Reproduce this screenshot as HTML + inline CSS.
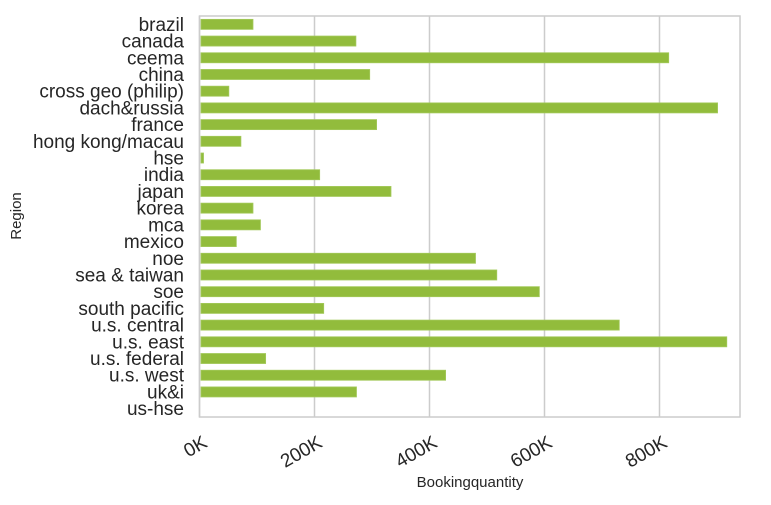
<!DOCTYPE html>
<html><head><meta charset="utf-8">
<style>
body{margin:0;background:#fff;font-family:"Liberation Sans",Arial,sans-serif;}
svg text{font-family:"Liberation Sans",Arial,sans-serif;fill:#262626;}
</style></head>
<body>
<svg width="771" height="500" viewBox="0 0 771 500">
<g id="grid"></g>
<g id="bars"></g>
<g id="ylabels"></g>
<g id="xlabels"></g>
<rect x="199.5" y="16" width="540.5" height="401" fill="none" stroke="#cccccc" stroke-width="1.5"/>
<text x="470" y="487" font-size="15" text-anchor="middle">Bookingquantity</text>
<text x="21" y="216" font-size="15" text-anchor="middle" transform="rotate(-90 21 216)">Region</text>
</svg>
<script>
const categories=["brazil","canada","ceema","china","cross geo (philip)","dach&russia","france","hong kong/macau","hse","india","japan","korea","mca","mexico","noe","sea & taiwan","soe","south pacific","u.s. central","u.s. east","u.s. federal","u.s. west","uk&i","us-hse"];
const values=[93,272,816,296,51,901,308,72,7,209,333,93,106,64,480,517,591,216,730,917,115,428,273,0];
const ticks=[0,200,400,600,800];
const tickLabels=["0K","200K","400K","600K","800K"];
const NS="http://www.w3.org/2000/svg";
const X0=199.5,PX_PER_K=115/200,PLOT_TOP=16,PLOT_BOTTOM=417;
const nCat=categories.length;
const band=(PLOT_BOTTOM-PLOT_TOP)/nCat;
const xs=v=>X0+v*PX_PER_K;
const yc=i=>PLOT_TOP+(i+0.5)*band;
function mk(tag,attrs,parent){const e=document.createElementNS(NS,tag);for(const k in attrs)e.setAttribute(k,attrs[k]);parent.appendChild(e);return e;}
const grid=document.getElementById('grid'),bars=document.getElementById('bars'),yl=document.getElementById('ylabels'),xl=document.getElementById('xlabels');
ticks.forEach((t,i)=>{
  const l=mk('line',{x1:xs(t),x2:xs(t),y1:PLOT_TOP,y2:PLOT_BOTTOM,stroke:'#cccccc','stroke-width':1.5},grid);
  
  
  const x=xs(t)+9,y=446;
  const tx=mk('text',{x:x,y:y,'font-size':19,'text-anchor':'end',transform:`rotate(-30 ${x} ${y})`},xl);
  tx.textContent=tickLabels[i];
  
  
});
categories.forEach((c,i)=>{
  const bh=band*0.6;
  const r=mk('rect',{x:xs(0)+1.5,y:yc(i)-bh/2,width:Math.max(0,xs(values[i])-xs(0)-1.5),height:bh,fill:'#92bc3c',stroke:'#a3c95a','stroke-width':0.8},bars);
  
  
  const t=mk('text',{x:184,y:yc(i)+6.5,'font-size':19,'text-anchor':'end'},yl);
  t.textContent=c;
  
  
});
</script>
</body></html>
